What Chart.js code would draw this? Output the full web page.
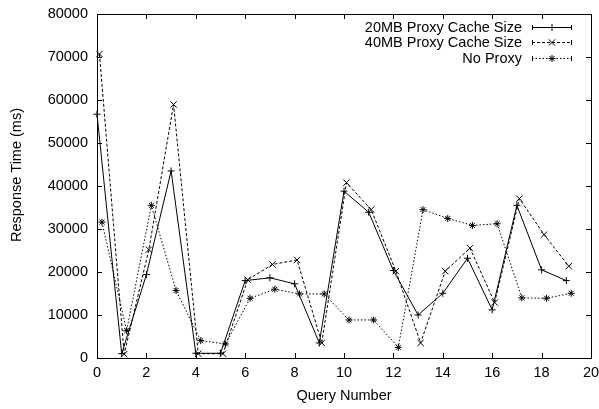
<!DOCTYPE html>
<html>
<head>
<meta charset="utf-8">
<title>Response Time per Query</title>
<script src="https://cdn.jsdelivr.net/npm/chart.js"></script>
<style>
  html, body { margin: 0; padding: 0; background: #fff; }
  #wrap { width: 599px; height: 409px; }
</style>
</head>
<body>
<div id="wrap"><canvas id="chart" width="599" height="409"></canvas></div>
<script>
// values (ms)
const seriesNames = ['20MB Proxy Cache Size', '40MB Proxy Cache Size', 'No Proxy'];
const xProxy20 = [0, 1, 2, 3, 4, 5, 6, 7, 8, 9, 10, 11, 12, 13, 14, 15, 16, 17, 18, 19];
const xProxy40 = [0.1, 1.1, 2.1, 3.1, 4.1, 5.1, 6.1, 7.1, 8.1, 9.1, 10.1, 11.1, 12.1, 13.1, 14.1, 15.1, 16.1, 17.1, 18.1, 19.1];
const xNoProxy = [0.2, 1.2, 2.2, 3.2, 4.2, 5.2, 6.2, 7.2, 8.2, 9.2, 10.2, 11.2, 12.2, 13.2, 14.2, 15.2, 16.2, 17.2, 18.2, 19.2];
const proxy20 = [56700, 1000, 19400, 43500, 1100, 1100, 18000, 18650, 17250, 3500, 38800, 33900, 20350, 10000, 15050, 23200, 11200, 35500, 20500, 18000];
const proxy40 = [70700, 900, 25200, 58960, 1000, 1000, 18200, 21750, 22800, 3500, 40780, 34500, 20200, 3500, 20200, 25550, 12900, 37050, 28700, 21350];
const noProxy = [31600, 6350, 35500, 15700, 4050, 3260, 13900, 16000, 14900, 14900, 8850, 8850, 2470, 34500, 32450, 30830, 31230, 13980, 13900, 15050];
const xTickValues = [0, 2, 4, 6, 8, 10, 12, 14, 16, 18, 20];
const yTickValues = [0, 10000, 20000, 30000, 40000, 50000, 60000, 70000, 80000];

const FONT = 'Liberation Sans, Arial, Helvetica, sans-serif';
const pts = (xs, ys) => xs.map((x, i) => ({ x: x, y: ys[i] }));

function ds(label, data, dash, style, r) {
  return {
    label: label, data: data,
    borderColor: '#000', backgroundColor: '#000',
    borderWidth: 1, borderDash: dash,
    pointStyle: style, pointRadius: r, pointBorderWidth: 1,
    pointBorderColor: '#000', tension: 0, fill: false, clip: false
  };
}

// gnuplot-like frame: border, inward ticks on all sides, legend, y title
const gnuFrame = {
  id: 'gnuFrame',
  afterDraw(chart) {
    const c = chart.ctx, a = chart.chartArea;
    const xs = chart.scales.x, ys = chart.scales.y;
    const t = 5;
    c.save();
    c.strokeStyle = '#000';
    c.lineWidth = 1;
    c.setLineDash([]);
    c.beginPath();
    xTickValues.forEach(v => {
      const px = Math.round(xs.getPixelForValue(v)) + 0.5;
      c.moveTo(px, a.bottom); c.lineTo(px, a.bottom - t);
      c.moveTo(px, a.top); c.lineTo(px, a.top + t);
    });
    yTickValues.forEach(v => {
      const py = Math.round(ys.getPixelForValue(v)) + 0.5;
      c.moveTo(a.left, py); c.lineTo(a.left + t, py);
      c.moveTo(a.right, py); c.lineTo(a.right - t, py);
    });
    c.stroke();
    c.strokeRect(Math.round(a.left) + 0.5, Math.round(a.top) + 0.5,
      Math.round(a.right - a.left), Math.round(a.bottom - a.top));

    // y axis title
    c.fillStyle = '#000';
    c.font = '14.5px ' + FONT;
    c.textAlign = 'center';
    c.textBaseline = 'middle';
    c.translate(17, 175);
    c.rotate(-Math.PI / 2);
    c.fillText('Response Time (ms)', 0, 0);
    c.restore();

    // legend
    c.save();
    c.font = '14.5px ' + FONT;
    c.fillStyle = '#000';
    c.strokeStyle = '#000';
    c.lineWidth = 1;
    c.textAlign = 'right';
    c.textBaseline = 'middle';
    chart.data.datasets.forEach((d, i) => {
      const y = Math.round(27 + i * 15.3) + 0.5;
      c.fillText(d.label, 522, y);
      c.setLineDash(d.borderDash);
      c.beginPath(); c.moveTo(532, y); c.lineTo(572, y); c.stroke();
      c.setLineDash([]);
      c.beginPath();
      c.moveTo(532.5, y - 2.5); c.lineTo(532.5, y + 2.5);
      c.moveTo(571.5, y - 2.5); c.lineTo(571.5, y + 2.5);
      c.stroke();
      Chart.helpers.drawPoint(c, { pointStyle: d.pointStyle, radius: d.pointRadius, borderWidth: 1, rotation: 0 }, 552, y);
    });
    c.restore();
  }
};

const plain = v => String(v);

new Chart(document.getElementById('chart'), {
  type: 'line',
  data: {
    datasets: [
      ds(seriesNames[0], pts(xProxy20, proxy20), [], 'cross', 3.5),
      ds(seriesNames[1], pts(xProxy40, proxy40), [3, 2], 'crossRot', 4.5),
      ds(seriesNames[2], pts(xNoProxy, noProxy), [1.5, 2], 'star', 3.5)
    ]
  },
  options: {
    responsive: false,
    animation: false,
    layout: { padding: { top: 14, right: 8, left: 0, bottom: 0 } },
    plugins: { legend: { display: false }, tooltip: { enabled: false } },
    scales: {
      x: {
        type: 'linear', min: 0, max: 20,
        afterFit: s => { s.height = 51; s.paddingLeft = 0; s.paddingRight = 0; },
        afterBuildTicks: s => { s.ticks = xTickValues.map(v => ({ value: v })); },
        grid: { display: false, drawTicks: false }, border: { display: false },
        ticks: { color: '#000', font: { family: FONT, size: 14.5 }, padding: 6, maxRotation: 0, callback: plain },
        title: { display: true, text: 'Query Number', color: '#000', font: { family: FONT, size: 14.5 }, padding: { top: 0, bottom: 4 } }
      },
      y: {
        min: 0, max: 80000,
        afterFit: s => { s.width = 97; s.paddingTop = 0; s.paddingBottom = 0; },
        afterBuildTicks: s => { s.ticks = yTickValues.map(v => ({ value: v })); },
        grid: { display: false, drawTicks: false }, border: { display: false },
        ticks: { color: '#000', font: { family: FONT, size: 14.5 }, padding: 9, callback: plain }
      }
    }
  },
  plugins: [gnuFrame]
});
</script>
</body>
</html>
